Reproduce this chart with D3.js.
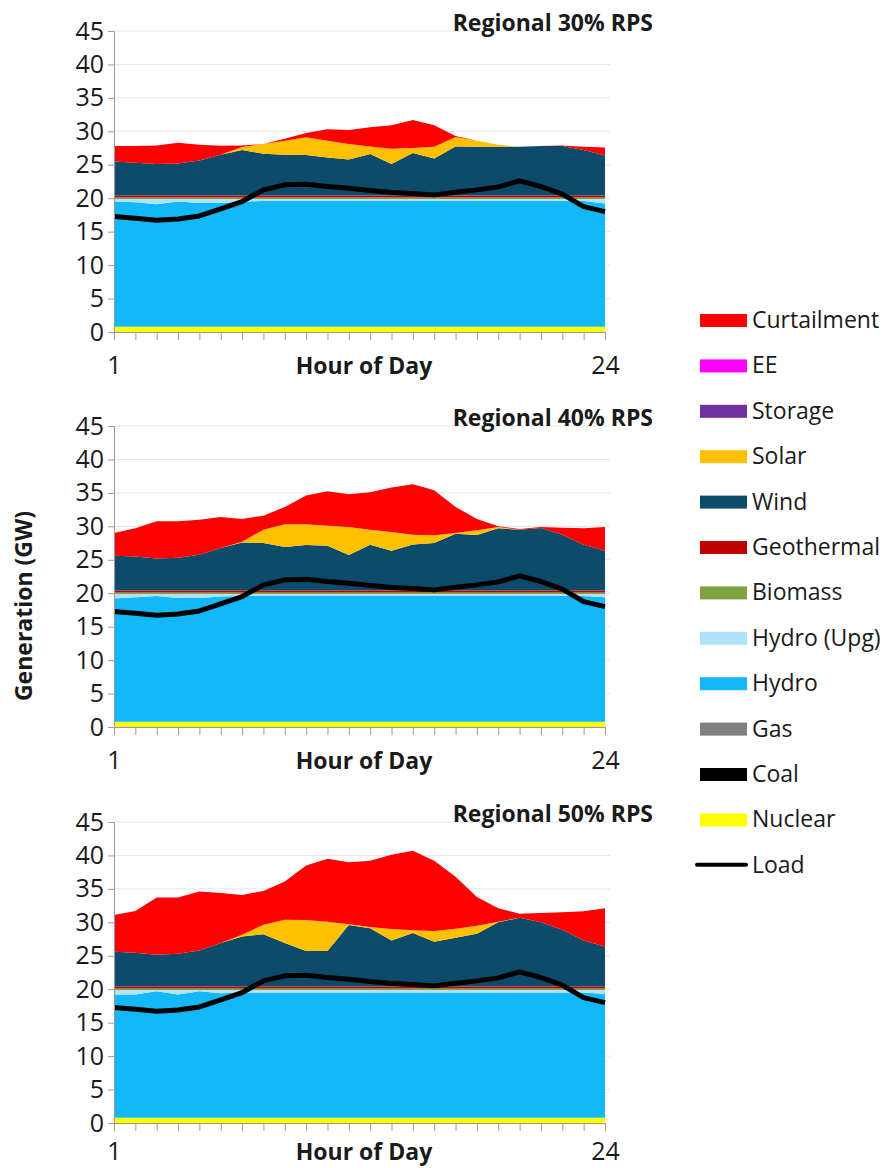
<!DOCTYPE html>
<meta charset="utf-8">
<style>
body { margin: 0; background: #fff; }
text { font-family: "Open Sans", Calibri, Lato, sans-serif; fill: #1a1a1a; }
.yaxis text { font-size: 25px; }
.xaxis text { font-size: 25px; }
.title { font-size: 23px; font-weight: bold; }
.xlabel { font-size: 23px; font-weight: bold; }
.ylabel { font-size: 23px; font-weight: bold; }
.legend text { font-size: 23px; }
</style>
<svg width="885" height="1168"></svg>
<script src="https://d3js.org/d3.v7.min.js"></script>
<script>

var hours = [1,2,3,4,5,6,7,8,9,10,11,12,13,14,15,16,17,18,19,20,21,22,23,24];

// stacking order, bottom to top
var keys = ["Nuclear","Coal","Gas","Hydro","Hydro (Upg)","Biomass","Geothermal","Wind","Solar","Storage","EE","Curtailment"];
var colors = ["#ffff00","#000000","#808080","#12b8f8","#aee3fa","#7ea33f","#c00000","#0c4c6a","#ffc000","#7030a0","#ff00ff","#ff0000"];

// shared series (GW)
var nuclear = [0.8,0.8,0.8,0.8,0.8,0.8,0.8,0.8,0.8,0.8,0.8,0.8,0.8,0.8,0.8,0.8,0.8,0.8,0.8,0.8,0.8,0.8,0.8,0.8];
var coal    = [0,0,0,0,0,0,0,0,0,0,0,0,0,0,0,0,0,0,0,0,0,0,0,0];
var gas     = [0,0,0,0,0,0,0,0,0,0,0,0,0,0,0,0,0,0,0,0,0,0,0,0];
var storage = [0,0,0,0,0,0,0,0,0,0,0,0,0,0,0,0,0,0,0,0,0,0,0,0];
var ee      = [0,0,0,0,0,0,0,0,0,0,0,0,0,0,0,0,0,0,0,0,0,0,0,0];
var biomass = [0.2,0.2,0.2,0.2,0.2,0.2,0.2,0.2,0.2,0.2,0.2,0.2,0.2,0.2,0.2,0.2,0.2,0.2,0.2,0.2,0.2,0.2,0.2,0.2];
var geothermal = [0.3,0.3,0.3,0.3,0.3,0.3,0.3,0.3,0.3,0.3,0.3,0.3,0.3,0.3,0.3,0.3,0.3,0.3,0.3,0.3,0.3,0.3,0.3,0.3];
var load = [17.25,17.0,16.7,16.9,17.35,18.4,19.5,21.25,22.0,22.1,21.75,21.5,21.15,20.85,20.7,20.5,20.9,21.25,21.7,22.6,21.75,20.6,18.75,18.0];

// Regional 30% RPS
var hydro30    = [18.7,18.6,18.3,18.7,18.5,18.5,18.7,18.8,18.8,18.8,18.8,18.8,18.8,18.8,18.8,18.8,18.8,18.8,18.8,18.8,18.8,18.8,18.8,18.4];
var hydroUpg30 = [0.4,0.5,0.8,0.4,0.6,0.6,0.4,0.3,0.3,0.3,0.3,0.3,0.3,0.3,0.3,0.3,0.3,0.3,0.3,0.3,0.3,0.3,0.3,0.7];
var wind30     = [5.1,4.9,4.7,4.8,5.25,6.1,6.8,6.25,6.1,6.05,5.7,5.4,6.2,4.7,6.35,5.55,7.35,7.3,7.3,7.3,7.4,7.4,6.8,6.0];
var solar30    = [0,0,0,0,0,0,0.45,1.45,2.1,2.65,2.5,2.3,1.15,2.3,0.75,1.75,1.4,0.9,0.3,0,0,0,0,0];
var curtail30  = [2.3,2.5,2.8,3.1,2.35,1.35,0.25,0,0.3,0.65,1.7,2.1,2.85,3.5,4.2,3.2,0.15,0,0,0,0,0.1,0.5,1.2];

// Regional 40% RPS
var hydro40    = [18.4,18.6,18.8,18.5,18.5,18.7,18.8,18.8,18.8,18.8,18.8,18.8,18.8,18.8,18.8,18.8,18.8,18.8,18.8,18.8,18.8,18.8,18.8,18.6];
var hydroUpg40 = [0.7,0.5,0.3,0.6,0.6,0.4,0.3,0.3,0.3,0.3,0.3,0.3,0.3,0.3,0.3,0.3,0.3,0.3,0.3,0.3,0.3,0.3,0.3,0.5];
var wind40     = [5.2,5.1,4.8,4.9,5.35,6.35,7.2,7.1,6.5,6.8,6.7,5.3,6.85,5.95,6.9,7.1,8.5,8.3,9.3,9.1,9.35,8.35,6.85,5.95];
var solar40    = [0,0,0,0,0,0,0.1,2.0,3.4,3.1,3.0,4.2,2.25,2.8,1.45,1.15,0.1,0.7,0.2,0,0,0,0,0];
var curtail40  = [3.4,4.2,5.55,5.45,5.25,4.65,3.4,2.1,2.6,4.3,5.15,4.9,5.6,6.65,7.55,6.75,3.9,1.7,0.1,0.1,0.15,1.05,2.45,3.55];

// Regional 50% RPS
var hydro50    = [18.4,18.4,18.9,18.4,18.9,18.6,18.7,18.7,18.7,18.7,18.7,18.7,18.7,18.7,18.7,18.7,18.7,18.7,18.7,18.7,18.7,18.7,18.7,18.5];
var hydroUpg50 = [0.7,0.7,0.2,0.7,0.2,0.5,0.4,0.4,0.4,0.4,0.4,0.4,0.4,0.4,0.4,0.4,0.4,0.4,0.4,0.4,0.4,0.4,0.4,0.6];
var wind50     = [5.2,5.05,4.75,4.9,5.4,6.5,7.5,7.8,6.5,5.3,5.3,9.2,8.7,6.9,8.0,6.7,7.3,7.9,9.6,10.3,9.6,8.5,6.9,6.0];
var solar50    = [0,0,0,0,0,0,0.25,1.45,3.5,4.65,4.4,0.1,0.2,1.7,0.4,1.6,1.35,1.2,0.1,0,0,0,0,0];
var curtail50  = [5.5,6.25,8.55,8.4,8.8,7.5,5.95,5.05,5.7,8.15,9.4,9.3,9.9,11.1,11.9,10.5,7.75,4.3,2.0,0.6,1.4,2.6,4.35,5.7];

var yTicks = [0,5,10,15,20,25,30,35,40,45];

// lab = gap from the x axis down to the "Hour of Day" baseline (last panel squeezed at page bottom)
var panels = [
  {title: "Regional 30% RPS", base: 332, lab: 42, series: [nuclear,coal,gas,hydro30,hydroUpg30,biomass,geothermal,wind30,solar30,storage,ee,curtail30]},
  {title: "Regional 40% RPS", base: 727, lab: 42, series: [nuclear,coal,gas,hydro40,hydroUpg40,biomass,geothermal,wind40,solar40,storage,ee,curtail40]},
  {title: "Regional 50% RPS", base: 1123, lab: 37, series: [nuclear,coal,gas,hydro50,hydroUpg50,biomass,geothermal,wind50,solar50,storage,ee,curtail50]}
];

var svg = d3.select("svg");
var x = d3.scaleLinear().domain([1, 24]).range([114, 605]);
var plotH = 301;

panels.forEach(function(p) {
  var y = d3.scaleLinear().domain([0, 45]).range([p.base, p.base - plotH]);
  var g = svg.append("g");

  var rows = hours.map(function(h, i) {
    var r = {hour: h};
    keys.forEach(function(k, j) { r[k] = p.series[j][i]; });
    return r;
  });
  var stacked = d3.stack().keys(keys)(rows);

  // gridlines
  g.selectAll(".grid").data(yTicks.slice(1)).enter().append("line")
      .attr("x1", x(1)).attr("x2", 610)
      .attr("y1", function(d) { return y(d); }).attr("y2", function(d) { return y(d); })
      .attr("stroke", "#e6e6e6");

  var area = d3.area()
      .x(function(d) { return x(d.data.hour); })
      .y0(function(d) { return y(d[0]); })
      .y1(function(d) { return y(d[1]); });

  g.selectAll(".layer").data(stacked).enter().append("path")
      .attr("d", area)
      .attr("fill", function(d, i) { return colors[i]; });

  var line = d3.line()
      .x(function(d, i) { return x(hours[i]); })
      .y(function(d) { return y(d); });

  g.append("path").datum(load)
      .attr("d", line)
      .attr("fill", "none")
      .attr("stroke", "#000")
      .attr("stroke-width", 5)
      .attr("stroke-linejoin", "round");

  var ya = g.append("g").attr("class", "yaxis")
      .attr("transform", "translate(" + x(1) + ",0)")
      .call(d3.axisLeft(y).tickValues(yTicks).tickSize(6).tickPadding(4));

  var xa = g.append("g").attr("class", "xaxis")
      .attr("transform", "translate(0," + p.base + ")")
      .call(d3.axisBottom(x).tickValues(hours).tickSize(8).tickPadding(p.lab - 26)
        .tickFormat(function(d) { return (d === 1 || d === 24) ? d : ""; }));

  [ya, xa].forEach(function(a) {
    a.select(".domain").attr("stroke", "#999");
    a.selectAll(".tick line").attr("stroke", "#999");
  });

  g.append("text").attr("class", "title")
      .attr("x", 653).attr("y", p.base - plotH)
      .attr("text-anchor", "end")
      .text(p.title);

  g.append("text").attr("class", "xlabel")
      .attr("x", 364).attr("y", p.base + p.lab)
      .attr("text-anchor", "middle")
      .text("Hour of Day");
});

svg.append("text").attr("class", "ylabel")
    .attr("transform", "translate(32,606) rotate(-90)")
    .attr("text-anchor", "middle")
    .text("Generation (GW)");

// legend, top to bottom
var legendKeys = keys.slice().reverse().concat(["Load"]);
var legendColors = colors.slice().reverse().concat(["#000"]);

var lg = svg.append("g").attr("class", "legend");
var item = lg.selectAll("g").data(legendKeys).enter().append("g")
    .attr("transform", function(d, i) { return "translate(700," + (320 + i * 45.4) + ")"; });

item.append("rect")
    .attr("x", 0).attr("y", -6).attr("width", 47).attr("height", 13)
    .attr("fill", function(d, i) { return legendColors[i]; })
    .attr("display", function(d) { return d === "Load" ? "none" : null; });

item.filter(function(d) { return d === "Load"; }).append("line")
    .attr("x1", -3).attr("x2", 46).attr("y1", 0).attr("y2", 0)
    .attr("stroke", "#000").attr("stroke-width", 4).attr("stroke-linecap", "round");

item.append("text")
    .attr("x", 52).attr("y", 0).attr("dy", "0.35em")
    .text(function(d) { return d; });

</script>
